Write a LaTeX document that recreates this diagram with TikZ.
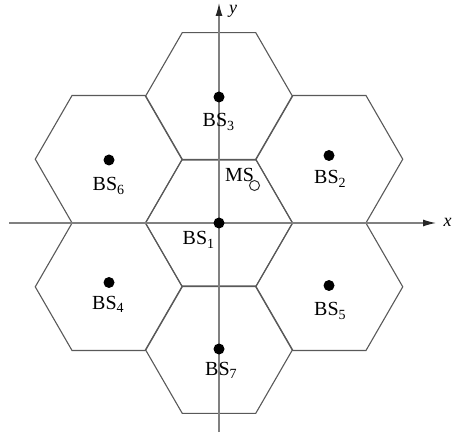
\documentclass[tikz,border=0pt]{standalone}
\usepackage{fontspec}
\setmainfont{Liberation Serif}
\usetikzlibrary{shapes.geometric,arrows.meta}
\newcommand{\bslab}[1]{BS\raisebox{-0.4ex}{\fontsize{14}{14}\selectfont #1}}
\begin{document}
\begin{tikzpicture}[x=1pt,y=-1pt,
  hexcell/.style={regular polygon,regular polygon sides=6,minimum size=147pt,inner sep=0pt,outer sep=0pt,draw=black!65,line width=1.1pt},
  bsdot/.style={circle,fill=black,inner sep=0pt,minimum size=11pt},
  msdot/.style={circle,draw=black!80,line width=1pt,fill=white,inner sep=0pt,minimum size=10pt},
  lab/.style={inner sep=0pt,anchor=base west,font=\fontsize{20}{22}\selectfont},
  axis/.style={draw=black!50,line width=1.2pt,-{Latex[length=13pt,width=7pt,color=black!85]}}]
\useasboundingbox (0,0) rectangle (452,435);
\node[hexcell] (h1) at (219,223) {};
\node[hexcell] (h3) at (219,96.3) {};
\node[hexcell] (h7) at (219,349.7) {};
\node[hexcell] (h2) at (329.25,159.2) {};
\node[hexcell] (h6) at (108.75,159.2) {};
\node[hexcell] (h4) at (108.75,286.8) {};
\node[hexcell] (h5) at (329.25,286.8) {};
\coordinate (xl) at (9,223);
\coordinate (xr) at (436,223);
\coordinate (yb) at (219,432);
\coordinate (yt) at (219,3);
\draw[axis] (xl) -- (xr);
\draw[axis] (yb) -- (yt);
\node[lab,font=\fontsize{18}{20}\selectfont\itshape] (xlab) at (443.5,227) {x};
\node[lab,font=\fontsize{18}{20}\selectfont\itshape] (ylab) at (229,14) {y};
\node[bsdot] (b1) at (219,223) {};
\node[bsdot] (b3) at (219,97) {};
\node[bsdot] (b7) at (219,349) {};
\node[bsdot] (b2) at (329,155.5) {};
\node[bsdot] (b6) at (109,160) {};
\node[bsdot] (b4) at (109,282.5) {};
\node[bsdot] (b5) at (329,285.5) {};
\node[lab] (l1) at (182.5,245) {\bslab{1}};
\node[lab] (l3) at (202.5,127) {\bslab{3}};
\node[lab] (l7) at (205,375) {\bslab{7}};
\node[lab] (l2) at (314,184) {\bslab{2}};
\node[lab] (l6) at (92.5,191) {\bslab{6}};
\node[lab] (l4) at (92,309) {\bslab{4}};
\node[lab] (l5) at (314,315.5) {\bslab{5}};
\node[lab] (ms) at (225,181.5) {MS};
\node[msdot] (m) at (254.5,185.5) {};
\end{tikzpicture}
\end{document}
